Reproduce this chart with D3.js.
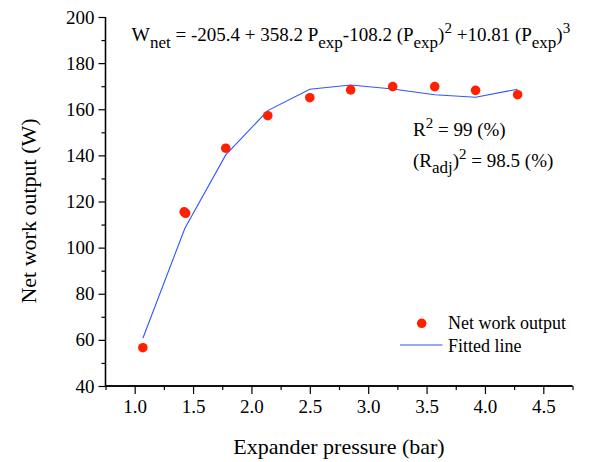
<!DOCTYPE html>
<html>
<head>
<meta charset="utf-8">
<script src="https://cdn.jsdelivr.net/npm/d3@7/dist/d3.min.js"></script>
<style>
  body { margin: 0; background: #fff; }
  svg text { font-family: Liberation Serif, Times New Roman, Times, Noto Serif, DejaVu Serif, serif !important; fill: #000; }
</style>
</head>
<body>
<div id="chart"></div>
<script>
// valeurs
let pression = [1.07, 1.424, 1.436, 1.78, 2.14, 2.50, 2.85, 3.21, 3.57, 3.92, 4.28];
let travail  = [56.6, 115.5, 114.9, 143.1, 157.2, 165.0, 168.4, 169.8, 169.8, 168.2, 166.3];
let pressionFit = [1.07, 1.43, 1.78, 2.14, 2.50, 2.85, 3.21, 3.57, 3.92, 4.28];
let travailFit  = [60.7, 108.4, 140.2, 159.4, 168.7, 170.5, 168.8, 166.3, 165.2, 168.7];
let ticksX = [1.0, 1.5, 2.0, 2.5, 3.0, 3.5, 4.0, 4.5];
let ticksY = [40, 60, 80, 100, 120, 140, 160, 180, 200];

let largeur = 589, hauteur = 462;
let marge = {gauche: 105.5, droite: 16.5, haut: 17, bas: 76};

let svg = d3.select("#chart").append("svg").attr("width", largeur).attr("height", hauteur);

let x = d3.scaleLinear().domain([0.75, 4.75]).range([marge.gauche, largeur - marge.droite]);
let y = d3.scaleLinear().domain([40, 200]).range([hauteur - marge.bas, marge.haut]);

// axe x : graduations mineures puis majeures
let axeX = svg.append("g").attr("transform", "translate(0," + y(40) + ")");
axeX.call(d3.axisBottom(x).tickValues(d3.range(0.75, 4.76, 0.5)).tickSize(4).tickFormat(""));
axeX.append("g").call(d3.axisBottom(x).tickValues(ticksX).tickSize(8).tickPadding(6).tickFormat(d3.format(".1f")));

let axeY = svg.append("g").attr("transform", "translate(" + x(0.75) + ",0)");
axeY.call(d3.axisLeft(y).tickValues(d3.range(50, 200, 20)).tickSize(4).tickFormat(""));
axeY.append("g").call(d3.axisLeft(y).tickValues(ticksY).tickSize(7).tickPadding(4).tickFormat(d3.format("d")));

svg.selectAll(".tick line").attr("stroke-width", 1.2);
svg.selectAll(".tick text").attr("font-size", 19);
// enlever les petits crochets d3 aux extremites
axeX.selectAll(".domain").attr("d", "M" + x(0.75) + ",0H" + x(4.75)).attr("stroke-width", 1.3);
axeY.selectAll(".domain").attr("d", "M0," + y(40) + "V" + y(200)).attr("stroke-width", 1.3);

// courbe ajustee
let ligne = d3.line().x((d, i) => x(pressionFit[i])).y(d => y(d));
svg.append("path").attr("d", ligne(travailFit)).attr("fill", "none")
   .attr("stroke", "#2f55ff").attr("stroke-width", 1.1);

// points mesures
svg.selectAll(".pt").data(travail).enter().append("circle")
   .attr("cx", (d, i) => x(pression[i])).attr("cy", d => y(d)).attr("r", 4.8)
   .attr("fill", "#ff2000");

// titres des axes
svg.append("text").attr("x", (x(0.75) + x(4.75)) / 2).attr("y", 454).attr("text-anchor", "middle")
   .style("font-size", "22px").text("Expander pressure (bar)");
svg.append("text").attr("transform", "translate(36,211) rotate(-90)").attr("text-anchor", "middle")
   .style("font-size", "22px").text("Net work output (W)");

function morceau(t, txt, dy, taille){
    t.append("tspan").attr("dy", dy).style("font-size", taille).text(txt);
}

// equation
let eq = svg.append("text").attr("x", 131.5).attr("y", 41).style("font-size", "19px");
morceau(eq, "W", 0, "19.5px");
morceau(eq, "net", 7, "17px");
morceau(eq, " = -205.4 + 358.2 P", -7, "19px");
morceau(eq, "exp", 7, "17px");
morceau(eq, "-108.2 (P", -7, "19px");
morceau(eq, "exp", 7, "17px");
morceau(eq, ")", -7, "19px");
morceau(eq, "2", -8, "15px");
morceau(eq, " +10.81 (P", 8, "19px");
morceau(eq, "exp", 7, "17px");
morceau(eq, ")", -7, "19px");
morceau(eq, "3", -8, "15px");
// ajuster la largeur a celle de l'original
let larg = eq.node().getComputedTextLength();
if (larg > 452) eq.attr("textLength", 452).attr("lengthAdjust", "spacingAndGlyphs");

// R2
let r1 = svg.append("text").attr("x", 413).attr("y", 136).style("font-size", "19px");
morceau(r1, "R", 0, "19px");
morceau(r1, "2", -8, "15px");
morceau(r1, " = 99 (%)", 8, "19px");
let r2 = svg.append("text").attr("x", 413).attr("y", 167).style("font-size", "19px");
morceau(r2, "(R", 0, "19px");
morceau(r2, "adj", 6, "17px");
morceau(r2, ")", -6, "19px");
morceau(r2, "2", -8, "15px");
morceau(r2, " = 98.5 (%)", 8, "19px");

// legende
let legende = svg.append("g");
legende.append("circle").attr("cx", 421.7).attr("cy", 323.3).attr("r", 4.8).attr("fill", "#ff2000");
legende.append("text").attr("x", 448).attr("y", 329).style("font-size", "18px").text("Net work output");
legende.append("line").attr("x1", 400).attr("x2", 442.5).attr("y1", 345).attr("y2", 345)
   .attr("stroke", "#2f55ff").attr("stroke-width", 1.1);
legende.append("text").attr("x", 448).attr("y", 352).style("font-size", "18px").text("Fitted line");
</script>
</body>
</html>
